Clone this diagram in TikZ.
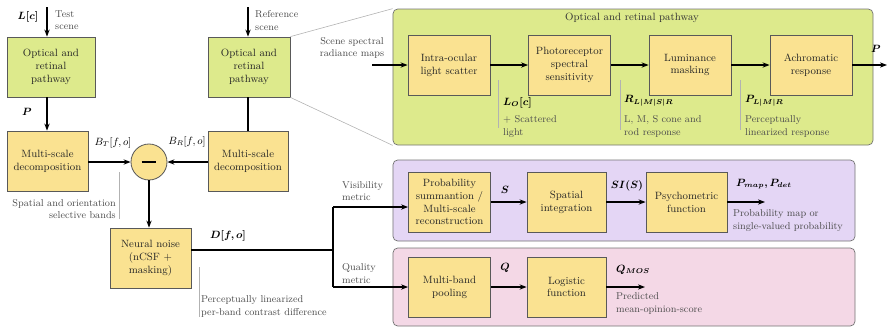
\documentclass[tikz,border=0pt]{standalone}
\usepackage{bm}
\usetikzlibrary{arrows.meta}

\definecolor{retgreen}{RGB}{221,234,140}
\definecolor{stageyellow}{RGB}{250,226,145}
\definecolor{vislilac}{RGB}{228,214,245}
\definecolor{qualpink}{RGB}{244,216,230}

\tikzset{
  stage/.style={draw=black!65, fill=stageyellow, line width=0.7pt, minimum width=2.46cm,
    minimum height=1.8cm, align=center, inner sep=1pt, text=black!85,
    font=\fontsize{9}{11}\selectfont},
  optic/.style={stage, fill=retgreen},
  panel/.style={draw=black!55, line width=0.6pt, rounded corners=4pt},
  note/.style={text=black!70, align=left, inner sep=0pt, font=\fontsize{8.5}{10.5}\selectfont},
  sig/.style={inner sep=0pt, font=\fontsize{9}{11}\selectfont},
  flow/.style={line width=1pt, -{Stealth[length=6pt,width=4.5pt]}},
  wire/.style={line width=1pt},
  tick/.style={draw=black!30, line width=0.5pt},
}

\begin{document}
\begin{tikzpicture}[x=0.03cm, y=-0.03cm]
\useasboundingbox (0,0) rectangle (890,328);

\node[panel, fill=retgreen, minimum width=14.4cm, minimum height=4.08cm] (retina) at (633,77) {};
\node[panel, fill=vislilac, minimum width=13.86cm, minimum height=2.43cm] (vis) at (624,200.5) {};
\node[panel, fill=qualpink, minimum width=13.86cm, minimum height=2.34cm] (qual) at (624,287) {};
\node[sig, text=black!80] at (632,18) {Optical and retinal pathway};

% test and reference branches
\node[optic, minimum width=2.64cm] (optT) at (51,67) {Optical and\\retinal\\pathway};
\node[stage, minimum width=2.43cm] (decT) at (47.5,161) {Multi-scale\\decomposition};
\node[optic] (optR) at (249,67) {Optical and\\retinal\\pathway};
\node[stage, minimum width=2.4cm] (decR) at (248,161) {Multi-scale\\decomposition};
\node[stage, circle, minimum size=1.08cm] (diff) at (149,162) {};
\draw[line width=1.6pt] ([xshift=-0.22cm]diff.center) -- ([xshift=0.22cm]diff.center);
\node[stage, minimum width=2.43cm] (noise) at (150.5,258) {Neural noise\\(nCSF +\\masking)};

\draw[black!30, line width=0.5pt] (optR.north east) -- (retina.north west);
\draw[black!30, line width=0.5pt] (optR.south east) -- (retina.south west);

\coordinate (inT) at (47,7);
\coordinate (inR) at (248,7);
\draw[flow] (inT) -- (inT |- optT.north);
\draw[flow] (inT |- optT.south) -- (inT |- decT.north);
\draw[flow] (inR) -- (inR |- optR.north);
\draw[wire] (inR |- optR.south) -- (inR |- decR.north);
\draw[flow] (decT.east |- diff) -- (diff.west);
\draw[flow] (decR.west |- diff) -- (diff.east);
\draw[flow] (diff.south) -- (diff.south |- noise.north);

\node[sig] at (28,17) {$\bm{L[c]}$};
\node[note, anchor=west] at (55,20.5) {Test\\scene};
\node[note, anchor=west] at (255,20.5) {Reference\\scene};
\node[sig] at (27,112) {$\bm{P}$};
\node[sig] at (113,143) {$B_T[f,o]$};
\node[sig] at (187,142) {$B_R[f,o]$};
\node[sig] at (228,236) {$\bm{D[f,o]}$};

\draw[tick] (119,172) -- (119,219);
\node[note, align=right, anchor=east] at (116,209) {Spatial and orientation\\selective bands};
\draw[tick] (199,267) -- (199,317);
\node[note, anchor=west] at (201,306.5) {Perceptually linearized\\per-band contrast difference};

% optical and retinal pathway
\node[stage] (scatter) at (449,65) {Intra-ocular\\light scatter};
\node[stage] (photo) at (569.5,65) {Photoreceptor\\spectral\\sensitivity};
\node[stage] (lum) at (690,65) {Luminance\\masking};
\node[stage] (achro) at (811,65) {Achromatic\\response};
\coordinate (scene) at (372,65);
\coordinate (pOut) at (887,65);
\draw[flow] (scene) -- (scatter);
\draw[flow] (scatter) -- (photo);
\draw[flow] (photo) -- (lum);
\draw[flow] (lum) -- (achro);
\draw[flow] (achro) -- (pOut);
\node[note, align=center] at (352,48) {Scene spectral\\radiance maps};
\node[sig] at (876,49) {$\bm{P}$};

\draw[tick] (498,80) -- (498,128);
\draw[tick] (620,80) -- (620,130);
\draw[tick] (740,80) -- (740,130);
\node[sig, anchor=west] at (503,103) {$\bm{L_O[c]}$};
\node[note, anchor=west] at (503,126.5) {+ Scattered\\light};
\node[sig, anchor=west] at (624,101) {$\bm{R_{L|M|S|R}}$};
\node[note, anchor=west] at (624,126.5) {L, M, S cone and\\rod response};
\node[sig, anchor=west] at (745,101) {$\bm{P_{L|M|R}}$};
\node[note, anchor=west] at (745,126.5) {Perceptually\\linearized response};

% visibility and quality metrics
\node[stage] (prob) at (449.5,202) {Probability\\summantion /\\Multi-scale\\reconstruction};
\node[stage, minimum width=2.37cm] (spat) at (566.5,202) {Spatial\\integration};
\node[stage, minimum width=2.43cm] (psych) at (686.5,202) {Psychometric\\function};
\node[stage] (pool) at (449.5,287) {Multi-band\\pooling};
\node[stage, minimum width=2.37cm] (logi) at (566.5,287) {Logistic\\function};

\coordinate (split) at (333,250);
\coordinate (visJ) at (333,207);
\coordinate (qualJ) at (333,287);
\coordinate (pmap) at (765,202);
\coordinate (mos) at (645,287);
\draw[wire] (noise.east |- split) -- (split);
\draw[wire] (visJ) -- (qualJ);
\draw[flow] (visJ) -- (visJ -| prob.west);
\draw[flow] (qualJ) -- (qualJ -| pool.west);
\draw[flow] (prob) -- (spat);
\draw[flow] (spat) -- (psych);
\draw[flow] (psych) -- (pmap);
\draw[flow] (pool) -- (logi);
\draw[flow] (logi) -- (mos);

\node[note, anchor=west] at (342,191) {Visibility\\metric};
\node[note, anchor=west] at (342,273.5) {Quality\\metric};
\node[sig] at (505,190) {$\bm{S}$};
\node[sig] at (627,186) {$\bm{SI(S)}$};
\node[sig, anchor=west] at (736,184) {$\bm{P_{map}, P_{det}}$};
\node[note, anchor=west] at (733,220.5) {Probability map or\\single-valued probability};
\node[sig] at (505,268) {$\bm{Q}$};
\node[sig, anchor=west] at (616,270) {$\bm{Q_{MOS}}$};
\node[note, anchor=west] at (616,303.5) {Predicted\\mean-opinion-score};
\end{tikzpicture}
\end{document}
